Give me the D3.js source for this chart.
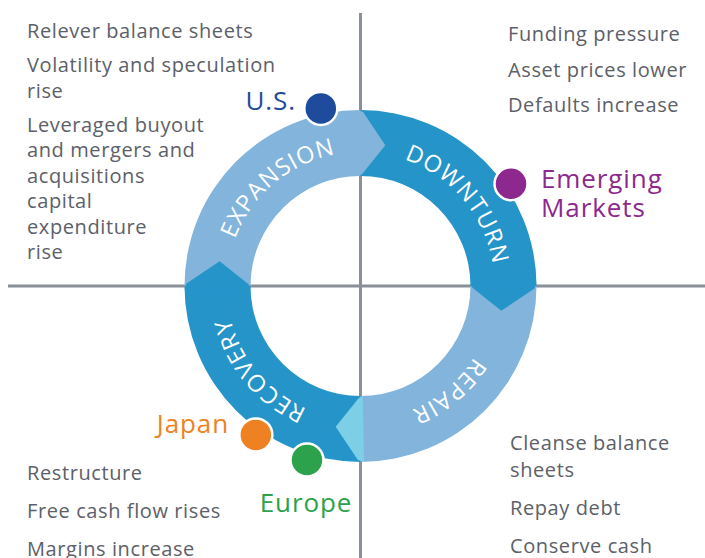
<!DOCTYPE html>
<html lang="en">
<head>
  <meta charset="UTF-8">
  <title>Credit cycle</title>
  <style>
    body { margin: 0; background: #fff; }
    text { font-family: "Open Sans", Lato, sans-serif; }
  </style>
</head>
<body>
  <script src="https://d3js.org/d3.v7.min.js"></script>
  <script>
    // cycle phases, clockwise from 9 o'clock
    const phases = ['EXPANSION', 'DOWNTURN', 'REPAIR', 'RECOVERY'];
    const phaseColors = ['#82b4dc', '#2494c9', '#82b4dc', '#2494c9'];
    const tipColors = ['#82b4dc', '#2494c9', '#7dcfe7', '#2494c9'];

    // where each region sits on the cycle (in phase units, 0..4)
    const regions = ['U.S.', 'Emerging Markets', 'Japan', 'Europe'];
    const regionPos = [0.86, 1.62, 3.39, 3.19];
    const regionColors = ['#1f4b9c', '#8d288e', '#ee8222', '#2ba24b'];

    // quadrant notes
    const notesTopLeft = [['Relever balance sheets'], ['Volatility and speculation', 'rise'],
      ['Leveraged buyout', 'and mergers and', 'acquisitions', 'capital', 'expenditure', 'rise']];
    const notesTopRight = [['Funding pressure'], ['Asset prices lower'], ['Defaults increase']];
    const notesBottomLeft = [['Restructure'], ['Free cash flow rises'], ['Margins increase']];
    const notesBottomRight = [['Cleanse balance', 'sheets'], ['Repay debt'], ['Conserve cash']];

    const width = 705;
    const height = 558;
    const cx = 360.5, cy = 286;
    const rIn = 110, rOut = 176, rMid = (rIn + rOut) / 2;

    const svg = d3.select('body').append('svg')
      .attr('width', width)
      .attr('height', height);

    const angle = d3.scaleLinear().domain([0, 4]).range([-Math.PI / 2, Math.PI * 1.5]);
    const tipA = 10 * Math.PI / 180;
    const pt = (r, a) => [cx + r * Math.sin(a), cy - r * Math.cos(a)];

    // axes
    svg.append('line').attr('x1', cx).attr('x2', cx).attr('y1', 13).attr('y2', height)
      .attr('stroke', '#8a9098').attr('stroke-width', 3);
    svg.append('line').attr('x1', 8).attr('x2', width).attr('y1', cy).attr('y2', cy)
      .attr('stroke', '#8a9098').attr('stroke-width', 3);

    const ring = svg.append('g');
    const arc = d3.arc().innerRadius(rIn).outerRadius(rOut);

    ring.selectAll('path.seg')
      .data(phases)
      .join('path')
      .attr('class', 'seg')
      .attr('transform', `translate(${cx},${cy})`)
      .attr('d', (d, i) => arc({ startAngle: angle(i), endAngle: angle(i + 1) }))
      .attr('fill', (d, i) => phaseColors[i]);

    // arrow tips pushing into the next phase
    ring.selectAll('path.tip')
      .data(phases)
      .join('path')
      .attr('class', 'tip')
      .attr('d', (d, i) => {
        const a = angle(i + 1);
        const pts = [pt(rIn, a - 0.02), pt(rIn + 2, a + 0.015), pt(rMid, a + tipA), pt(rOut - 2, a + 0.015), pt(rOut, a - 0.02)];
        return d3.line()(pts) + 'Z';
      })
      .attr('fill', (d, i) => tipColors[i]);

    // labels on the ring
    const rText = 134;
    const defs = svg.append('defs');
    phases.forEach((p, i) => {
      const a0 = angle(i) + tipA, a1 = angle(i + 1);
      const p0 = pt(rText, a0), p1 = pt(rText, a1);
      defs.append('path').attr('id', 'lab' + i)
        .attr('d', `M${p0[0]},${p0[1]} A${rText},${rText} 0 0 1 ${p1[0]},${p1[1]}`);
    });
    svg.selectAll('text.phase')
      .data(phases)
      .join('text')
      .attr('class', 'phase')
      .attr('fill', '#fff')
      .attr('font-size', 23.5)
      .attr('letter-spacing', 1)
      .append('textPath')
      .attr('href', (d, i) => '#lab' + i)
      .attr('startOffset', '50%')
      .attr('text-anchor', 'middle')
      .text(d => d);

    // region dots
    const rDot = 182;
    svg.selectAll('circle.region')
      .data(regions)
      .join('circle')
      .attr('class', 'region')
      .attr('cx', (d, i) => pt(rDot, angle(regionPos[i]))[0])
      .attr('cy', (d, i) => pt(rDot, angle(regionPos[i]))[1])
      .attr('r', 16.5)
      .attr('fill', (d, i) => regionColors[i])
      .attr('stroke', '#fff')
      .attr('stroke-width', 2.5);

    // region labels
    const regionLabel = [
      { x: 296, y: 110, anchor: 'end' },
      { x: 541, y: 188, anchor: 'start' },
      { x: 229, y: 433, anchor: 'end' },
      { x: 306, y: 512, anchor: 'middle' }
    ];
    regions.forEach((name, i) => {
      const l = regionLabel[i];
      const t = svg.append('text')
        .attr('x', l.x).attr('y', l.y)
        .attr('text-anchor', l.anchor)
        .attr('font-size', 26)
        .attr('letter-spacing', 0.9)
        .attr('fill', regionColors[i]);
      name.split(' ').forEach((w, j) => {
        t.append('tspan').attr('x', l.x).attr('dy', j ? 29 : 0).text(w);
      });
    });

    // quadrant notes
    const drawNotes = (notes, x, y0, lineH, gap) => {
      let y = y0;
      notes.forEach(item => {
        item.forEach((line, j) => {
          svg.append('text')
            .attr('x', x).attr('y', y)
            .attr('font-size', 20)
            .attr('letter-spacing', 0.6)
            .attr('fill', '#5c6068')
            .text(line);
          y += j < item.length - 1 ? lineH : 0;
        });
        y += gap;
      });
    };
    drawNotes(notesTopLeft, 27, 38, 25.5, 34);
    drawNotes(notesTopRight, 508, 41, 25.5, 35.5);
    drawNotes(notesBottomLeft, 27, 480, 25.5, 38);
    drawNotes(notesBottomRight, 510, 450, 27, 38);
  </script>
</body>
</html>
